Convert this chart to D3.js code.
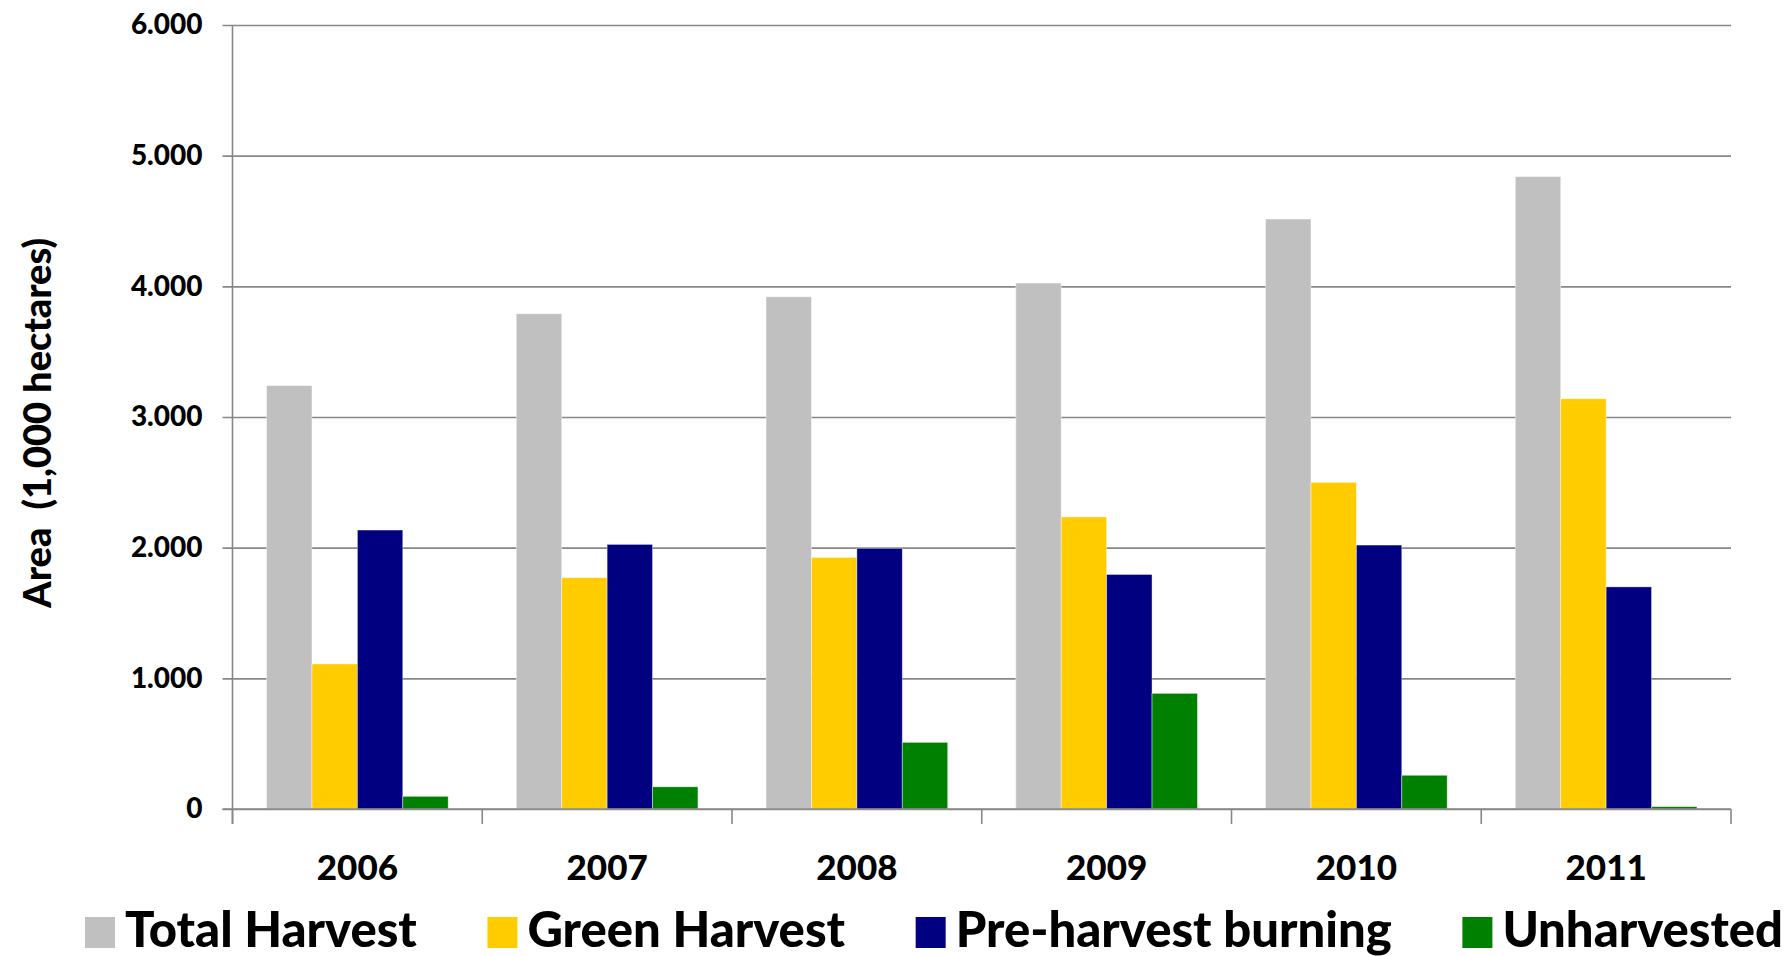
<!DOCTYPE html>
<html>
<head>
<meta charset="utf-8">
<script src="https://cdn.jsdelivr.net/npm/d3@7"></script>
<style>
  html, body { margin: 0; padding: 0; background: #ffffff; }
  svg { display: block; }
  text { font-family: Lato, "Open Sans", sans-serif; font-weight: 900; fill: #000; }
</style>
</head>
<body>
<svg id="chart" width="1787" height="956"></svg>
<script>
// Sugarcane area by harvest method, 1,000 hectares
const years = ["2006", "2007", "2008", "2009", "2010", "2011"];
const seriesNames = ["Total Harvest", "Green Harvest", "Pre-harvest burning", "Unharvested"];
const totalHarvest = [3240, 3790, 3920, 4025, 4515, 4840];
const greenHarvest = [1110, 1770, 1925, 2235, 2500, 3140];
const preHarvestBurning = [2135, 2025, 1995, 1795, 2020, 1700];
const unharvested = [97, 170, 510, 885, 258, 18];
const seriesColors = ["#c0c0c0", "#ffcc00", "#000080", "#008000"];
const yTicks = [0, 1000, 2000, 3000, 4000, 5000, 6000];
const yTitle = "Area  (1,000 hectares)";

const seriesValues = [totalHarvest, greenHarvest, preHarvestBurning, unharvested];

const svg = d3.select("#chart");
const plot = { left: 232.5, right: 1731, top: 25, bottom: 809 };

const x = d3.scaleBand().domain(years).range([plot.left, plot.right]).paddingInner(0).paddingOuter(0);
const xs = d3.scaleBand().domain(seriesNames).range([0, x.bandwidth()]).paddingInner(0).paddingOuter(0.75);
const y = d3.scaleLinear().domain([0, 6000]).range([plot.bottom, plot.top]);

const fmt = v => v === 0 ? "0" : d3.format(",")(v).replace(",", ".");

// horizontal gridlines with short left ticks
const yAxis = d3.axisLeft(y).tickValues(yTicks).tickFormat(fmt)
  .tickSize(-(plot.right - plot.left)).tickPadding(21);
const gy = svg.append("g").attr("transform", `translate(${plot.left},0)`).call(yAxis);
gy.select(".domain").remove();
gy.selectAll(".tick line").attr("stroke", "#878787").attr("stroke-width", 1.6).attr("x1", -10);
gy.selectAll(".tick text").attr("font-size", 28).attr("font-family", "Lato").attr("font-weight", 900).attr("x", -30);

// bars
const groups = svg.append("g").selectAll("g").data(years).join("g")
  .attr("transform", d => `translate(${x(d)},0)`);
groups.selectAll("rect")
  .data((yr, i) => seriesNames.map((s, k) => ({ s, k, v: seriesValues[k][i] })))
  .join("rect")
  .attr("x", d => xs(d.s))
  .attr("width", xs.bandwidth())
  .attr("y", d => y(d.v))
  .attr("height", d => y(0) - y(d.v))
  .attr("fill", d => seriesColors[d.k])
  .attr("stroke", "#ffffff")
  .attr("stroke-opacity", 0.5)
  .attr("stroke-width", 0.8);

// category axis with separators between groups
const xAxis = d3.axisBottom(x).tickSize(0).tickPadding(46);
const gx = svg.append("g").attr("transform", `translate(0,${plot.bottom})`).call(xAxis);
gx.select(".domain").remove();
gx.selectAll(".tick text").attr("font-size", 35).attr("font-family", "Lato").attr("font-weight", 900);
const sep = years.map(yv => x(yv)).concat([plot.right]);
svg.append("g").selectAll("line").data(sep).join("line")
  .attr("x1", d => d).attr("x2", d => d)
  .attr("y1", plot.bottom).attr("y2", plot.bottom + 15)
  .attr("stroke", "#878787").attr("stroke-width", 1.6);

// axis lines
svg.append("line").attr("x1", plot.left).attr("x2", plot.left)
  .attr("y1", plot.top).attr("y2", plot.bottom + 15)
  .attr("stroke", "#878787").attr("stroke-width", 1.6);
svg.append("line").attr("x1", plot.left - 10).attr("x2", plot.right)
  .attr("y1", plot.bottom).attr("y2", plot.bottom)
  .attr("stroke", "#878787").attr("stroke-width", 1.6);

// y title
svg.append("text")
  .attr("transform", "translate(51,423) rotate(-90)")
  .attr("text-anchor", "middle")
  .attr("font-size", 38)
  .attr("xml:space", "preserve")
  .style("white-space", "pre")
  .text(yTitle);

// legend: items laid out left to right, spread over the legend width
const legendLeft = 85, legendRight = 1783, sw = 30, textOffset = 40;
const legend = svg.append("g");
const items = seriesNames.map((name, k) => {
  const g = legend.append("g");
  g.append("rect").attr("y", 917).attr("width", sw).attr("height", 31).attr("fill", seriesColors[k]);
  const t = g.append("text").attr("x", textOffset).attr("y", 947).attr("font-size", 49).text(name);
  return { g, w: textOffset + t.node().getComputedTextLength() };
});
const gap = (legendRight - legendLeft - d3.sum(items, d => d.w)) / (items.length - 1);
let lx = legendLeft;
items.forEach(it => { it.g.attr("transform", `translate(${lx},0)`); lx += it.w + gap; });
</script>
</body>
</html>
